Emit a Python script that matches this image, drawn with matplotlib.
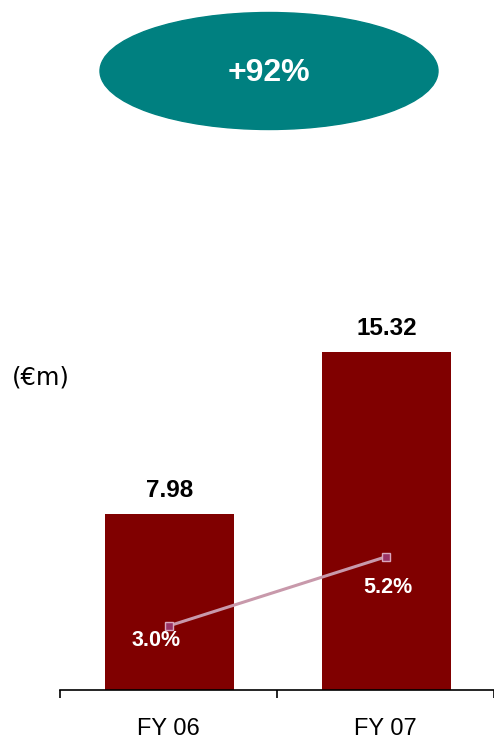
import numpy as np
import matplotlib.pyplot as plt
from matplotlib.patches import Ellipse

cats = ['FY 06', 'FY 07']
revenue = [7.98, 15.32]   # €m
margin = [3.0, 5.2]       # %
growth = '+92%'

fig = plt.figure(figsize=(4.94, 7.39), dpi=100)
ax = fig.add_axes([60/494, 49/739, 434/494, 390/739])
ax2 = ax.twinx()

x = np.arange(len(cats))
ax.bar(x + 0.005, revenue, width=0.595, color='#800000', zorder=2)
ax.set_xlim(-0.5, 1.5)
ax.set_ylim(0, 390/22.06)

for xi, v in zip(x, revenue):
    ax.annotate(f'{v:.2f}', (xi, v), xytext=(1, 17), textcoords='offset pixels',
                ha='center', va='baseline', fontsize=17.5, fontweight='bold',
                family='Liberation Sans')

# secondary axis for the margin line
ax2.set_ylim(3.0 - 64/31.4, 3.0 - 64/31.4 + 390/31.4)
ax2.plot(x, margin, color='#C899AB', lw=2.2, marker='s', ms=6,
         mfc='#993366', mec='#D9A6BD', mew=1, zorder=3)
offs = [(-12, -15), (2, -31)]
for xi, v, o in zip(x, margin, offs):
    ax2.annotate(f'{v:.1f}%', (xi, v), xytext=o, textcoords='offset pixels',
                 ha='center', va='center', fontsize=15.5, fontweight='bold',
                 color='white', family='Liberation Sans')

for a in (ax, ax2):
    for s in ('top', 'right', 'left'):
        a.spines[s].set_visible(False)
    a.set_yticks([])
ax2.spines['bottom'].set_visible(False)
ax.spines['bottom'].set_linewidth(1.2)

ax.set_xticks([-0.5, 0.5, 1.5])
ax.set_xticklabels([])
ax.tick_params(axis='x', which='major', direction='out', length=6, width=1.2)
ax.set_xticks(x, minor=True)
ax.set_xticklabels(cats, minor=True, fontsize=17, family='Liberation Sans')
ax.tick_params(axis='x', which='minor', length=0, pad=20)

fig.text(41/494, 1 - 378/739, '(€m)', ha='center', va='center', fontsize=17.5,
         family='DejaVu Sans')

fig.add_artist(Ellipse((269/494, 1 - 71/739), 338/494, 117/739,
                       transform=fig.transFigure, color='#008080'))
fig.text(269/494, 1 - 73/739, growth, ha='center', va='center', fontsize=23,
         fontweight='bold', color='white', family='Liberation Sans')

fig.savefig('out.png', dpi=100)
